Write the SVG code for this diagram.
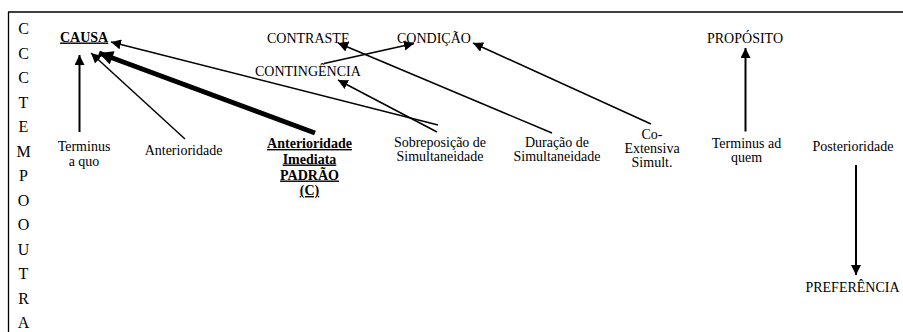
<svg xmlns="http://www.w3.org/2000/svg" width="903" height="332" viewBox="0 0 903 332">
<style>
text{font-family:"Liberation Serif","Times New Roman",serif;font-size:14px;fill:#000}
.col{font-size:16px;text-anchor:middle}
.c{text-anchor:middle}
.b{font-weight:bold;text-decoration:underline}
.ln{stroke:#000;stroke-width:1.5;fill:none}
.thick{stroke:#000;stroke-width:5;fill:none}
.frame{stroke:#000;stroke-width:1.3;fill:none}
</style>
<defs>
<marker id="ah" markerUnits="userSpaceOnUse" markerWidth="10" markerHeight="10" refX="10" refY="5" orient="auto" viewBox="0 0 10 10">
<path d="M0,0 L10,5 L0,10 z" fill="#000"/>
</marker>
<marker id="ahb" markerUnits="userSpaceOnUse" markerWidth="15" markerHeight="14" refX="14" refY="7" orient="auto" viewBox="0 0 14 14">
<path d="M0,0 L14,7 L0,14 z" fill="#000"/>
</marker>
</defs>
<g id="frame">
<line class="frame" x1="8" y1="12" x2="903" y2="12"/>
<line class="frame" x1="8.5" y1="12" x2="8.5" y2="332"/>
</g>
<g id="side-column">
<text class="col" x="23.5" y="34">C</text>
<text class="col" x="23.5" y="58.5">C</text>
<text class="col" x="23.5" y="83">C</text>
<text class="col" x="23.5" y="107.5">T</text>
<text class="col" x="23.5" y="132">E</text>
<text class="col" x="23.5" y="156.5">M</text>
<text class="col" x="23.5" y="181">P</text>
<text class="col" x="23.5" y="205.5">O</text>
<text class="col" x="23.5" y="230">O</text>
<text class="col" x="23.5" y="254.5">U</text>
<text class="col" x="23.5" y="279">T</text>
<text class="col" x="23.5" y="303.5">R</text>
<text class="col" x="23.5" y="328">A</text>
</g>
<g id="causa"><text class="b" x="60" y="41.5">CAUSA</text></g>
<g id="contraste"><text x="267" y="43">CONTRASTE</text></g>
<g id="condicao"><text x="397" y="43">CONDIÇÃO</text></g>
<g id="contingencia"><text x="255" y="76">CONTINGÊNCIA</text></g>
<g id="proposito"><text x="707" y="43">PROPÓSITO</text></g>
<g id="terminus-a-quo"><text class="c" x="84" y="151">Terminus</text><text class="c" x="84" y="166">a quo</text></g>
<g id="anterioridade"><text class="c" x="183.5" y="155">Anterioridade</text></g>
<g id="anterioridade-imediata"><text class="c b" x="309.5" y="148">Anterioridade</text><text class="c b" x="309.5" y="163.5">Imediata</text><text class="c b" x="309.5" y="179.5">PADRÃO</text><text class="c b" x="309.5" y="195">(C)</text></g>
<g id="sobreposicao"><text class="c" x="440" y="147">Sobreposição de</text><text class="c" x="440" y="161">Simultaneidade</text></g>
<g id="duracao"><text class="c" x="557" y="147">Duração de</text><text class="c" x="557" y="161">Simultaneidade</text></g>
<g id="co-extensiva"><text class="c" x="652" y="139">Co-</text><text class="c" x="652" y="153">Extensiva</text><text class="c" x="652" y="167">Simult.</text></g>
<g id="terminus-ad-quem"><text class="c" x="746.5" y="148">Terminus ad</text><text class="c" x="746.5" y="162">quem</text></g>
<g id="posterioridade"><text class="c" x="853" y="151">Posterioridade</text></g>
<g id="preferencia"><text class="c" x="852.5" y="291.5">PREFERÊNCIA</text></g>
<g id="connectors">
<line class="ln" x1="79.5" y1="132" x2="79.5" y2="55" marker-end="url(#ah)" style="stroke-width:2"/>
<line class="ln" x1="185" y1="139" x2="91" y2="53" marker-end="url(#ah)"/>
<line class="thick" x1="315" y1="133" x2="99" y2="53" marker-end="url(#ahb)"/>
<line class="ln" x1="438" y1="125" x2="111" y2="42" marker-end="url(#ah)"/>
<line class="ln" x1="437" y1="132" x2="338" y2="80" marker-end="url(#ah)"/>
<line class="ln" x1="552" y1="133" x2="338" y2="43" marker-end="url(#ah)"/>
<line class="ln" x1="324" y1="63.5" x2="414" y2="43.5" marker-end="url(#ah)"/>
<line class="ln" x1="651" y1="124" x2="473" y2="43" marker-end="url(#ah)"/>
<line class="ln" x1="745.5" y1="131.5" x2="745.5" y2="48" marker-end="url(#ah)" style="stroke-width:2"/>
<line class="ln" x1="856" y1="165" x2="856" y2="275" marker-end="url(#ah)" style="stroke-width:2"/>
</g>
</svg>
